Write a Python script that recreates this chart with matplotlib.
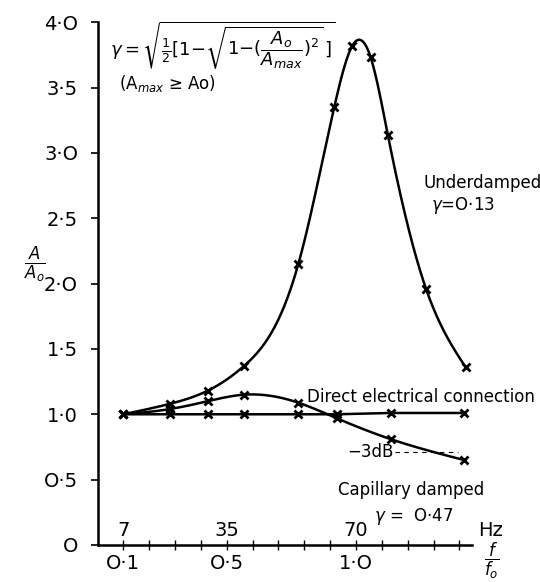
import numpy as np
import matplotlib
matplotlib.use('Agg')
import matplotlib.pyplot as plt

# DATA (x = f/f0, y = A/A0)
xUnder = [0.1, 0.28, 0.426, 0.567, 0.777, 0.916, 0.986, 1.057, 1.123, 1.271, 1.424]
yUnder = [1.0, 1.08, 1.18, 1.37, 2.15, 3.35, 3.82, 3.73, 3.14, 1.96, 1.36]

xCap = [0.1, 0.28, 0.426, 0.567, 0.775, 0.925, 1.134, 1.418]
yCap = [1.0, 1.04, 1.10, 1.15, 1.09, 0.97, 0.81, 0.65]

xDirect = [0.1, 0.28, 0.426, 0.567, 0.775, 0.925, 1.134, 1.418]
yDirect = [1.0, 1.0, 1.0, 1.0, 1.0, 1.0, 1.01, 1.01]

yTicks = [0, 0.5, 1.0, 1.5, 2.0, 2.5, 3.0, 3.5, 4.0]
yTickLabels = ['O', 'O·5', '1·0', '1·5', '2·O', '2·5', '3·O', '3·5', '4·O']
xTicks = [0.1, 0.5, 1.0]
xTickLabels = ['O·1', 'O·5', '1·O']
xMinor = [0.1, 0.2, 0.3, 0.4, 0.5, 0.6, 0.7, 0.8, 0.9, 1.0, 1.1, 1.2, 1.3, 1.4]
hzPos = [0.1, 0.5, 1.0]
hzLabels = ['7', '35', '70']
minus3dB = 0.714


# NATURAL CUBIC SPLINE FOR THE HAND-DRAWN SMOOTH CURVES
def spline(xs, ys, n=300):
    xs = np.asarray(xs, float)
    ys = np.asarray(ys, float)
    k = len(xs)
    h = np.diff(xs)
    A = np.zeros((k, k))
    r = np.zeros(k)
    A[0, 0] = A[-1, -1] = 1
    for i in range(1, k - 1):
        A[i, i - 1] = h[i - 1]
        A[i, i] = 2 * (h[i - 1] + h[i])
        A[i, i + 1] = h[i]
        r[i] = 3 * ((ys[i + 1] - ys[i]) / h[i] - (ys[i] - ys[i - 1]) / h[i - 1])
    c = np.linalg.solve(A, r)
    xx = np.linspace(xs[0], xs[-1], n)
    idx = np.clip(np.searchsorted(xs, xx) - 1, 0, k - 2)
    d = xx - xs[idx]
    b = (ys[1:] - ys[:-1]) / h - h * (2 * c[:-1] + c[1:]) / 3
    dd = (c[1:] - c[:-1]) / (3 * h)
    yy = ys[idx] + b[idx] * d + c[idx] * d ** 2 + dd[idx] * d ** 3
    return xx, yy


fig = plt.figure(figsize=(5.4, 5.82), dpi=100)
ax = fig.add_axes([0.1806, 0.0636, 0.694, 0.8983])
ax.set_xlim(0, 1.45)
ax.set_ylim(0, 4.0)

# CURVES
xs, ys = spline(xUnder, yUnder)
ax.plot(xs, ys, color='k', lw=1.8)
xs, ys = spline(xCap, yCap)
ax.plot(xs, ys, color='k', lw=1.8)
ax.plot(xDirect, yDirect, color='k', lw=1.8)

for xp, yp in [(xUnder, yUnder), (xCap, yCap), (xDirect, yDirect)]:
    ax.plot(xp, yp, ls='none', marker='x', ms=6, mew=2.0, color='k')

# -3 dB LINE
ax.plot([1.15, 1.395], [minus3dB, minus3dB], color='k', lw=0.8, ls=(0, (4, 4)))
ax.text(0.965, minus3dB, '−3dB', fontsize=12, va='center', ha='left')

# AXES STYLE
for s in ['top', 'right']:
    ax.spines[s].set_visible(False)
ax.spines['left'].set_linewidth(1.8)
ax.spines['bottom'].set_linewidth(1.8)
ax.set_yticks(yTicks)
ax.set_yticklabels(yTickLabels, fontsize=14)
ax.tick_params(axis='y', direction='out', length=5, width=1.2, pad=9)
ax.set_xticks(xTicks)
ax.set_xticklabels(xTickLabels, fontsize=14)
ax.set_xticks(xMinor, minor=True)
ax.tick_params(axis='x', which='both', direction='inout', length=7, width=1.0, pad=3)

# HZ SCALE
for p, lab in zip(hzPos, hzLabels):
    ax.text(p, 0.04, lab, fontsize=14, ha='center', va='bottom')
ax.text(1.52, 0.04, 'Hz', fontsize=14, ha='center', va='bottom', clip_on=False)

# AXIS LABELS
ax.text(1.525, -0.125, r'$\dfrac{f}{f_o}$', fontsize=12, ha='center', va='center', clip_on=False)
fig.text(0.065, 0.545, r'$\frac{A}{A_o}$', fontsize=17, ha='center', va='center')

# ANNOTATIONS
ax.text(0.05, 3.82, r'$\gamma{=}\sqrt{\frac{1}{2}[1{-}\sqrt{1{-}(\dfrac{A_o}{A_{max}})^2}\,]}$',
        fontsize=13, va='center', ha='left')
ax.text(0.085, 3.53, r'(A$_{max}$ ≥ Ao)', fontsize=12, va='center', ha='left')
ax.text(1.26, 2.77, 'Underdamped', fontsize=12, va='center', ha='left')
ax.text(1.29, 2.6, r'$\gamma$=O·13', fontsize=12, va='center', ha='left')
ax.text(0.81, 1.13, 'Direct electrical connection', fontsize=12, va='center', ha='left', clip_on=False)
ax.text(0.93, 0.42, 'Capillary damped', fontsize=12, va='center', ha='left')
ax.text(1.07, 0.22, r'$\gamma$ =  O·47', fontsize=12, va='center', ha='left')

fig.savefig('out.png', dpi=100)
